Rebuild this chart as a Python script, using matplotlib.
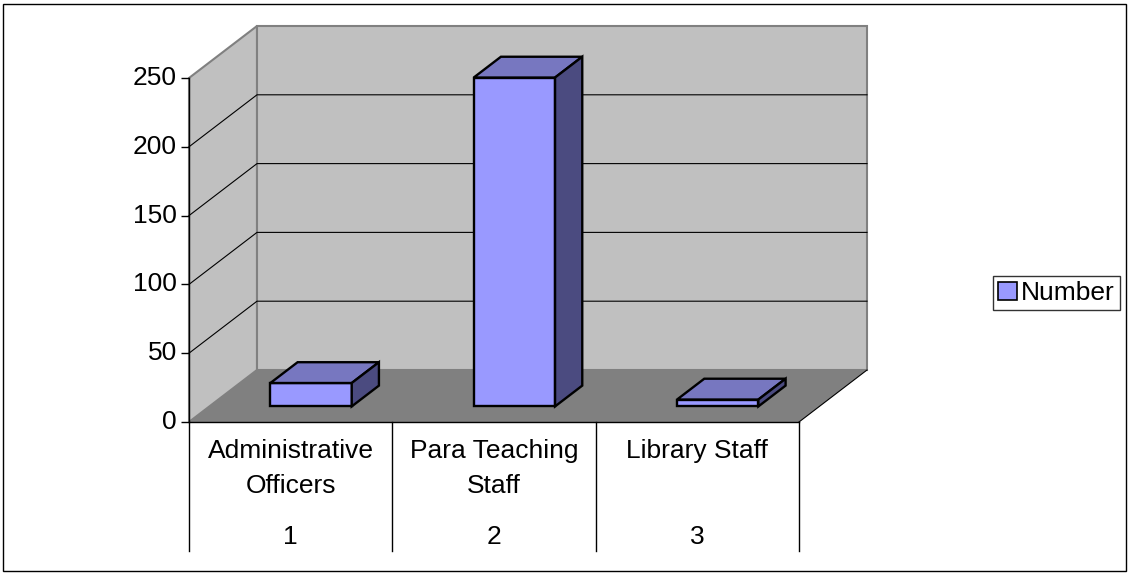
import matplotlib
matplotlib.use("Agg")
import matplotlib.pyplot as plt
from matplotlib.patches import Polygon, Patch, Rectangle
from matplotlib.transforms import ScaledTranslation, blended_transform_factory
from matplotlib.markers import TICKLEFT

# ---- data ----
categories = ["Administrative\nOfficers", "Para Teaching\nStaff", "Library Staff"]
category_numbers = ["1", "2", "3"]
values = [17, 239, 5]
series_name = "Number"
yticks = [0, 50, 100, 150, 200, 250]

# ---- style ----
FONT = "Liberation Sans"
FS = 19
FRONT = "#9999FF"
TOP = "#7777C0"
SIDE = "#4B4B80"
WALL = "#C0C0C0"
FLOOR = "#808080"

W, H = 1130, 575
fig = plt.figure(figsize=(W / 100, H / 100), dpi=100)
fig.patch.set_facecolor("white")
fig.patches.append(Rectangle((3 / W, 4 / H), 1123 / W, 567 / H, transform=fig.transFigure,
                             fill=False, edgecolor="black", lw=1.0))

ax = fig.add_axes([189 / W, 1 - 422 / H, 610 / W, 344 / H])
ax.set_xlim(0, len(categories))
ax.set_ylim(0, 250)
ax.axis("off")

# depth projection (oblique): full depth shift in data units
DX = 68 / (610 / 3)
DY = 52 / (344 / 250)


def proj(x, y, d):
    return (x + d * DX, y + d * DY)


def poly(pts, **kw):
    p = Polygon(pts, closed=True, clip_on=False, **kw)
    ax.add_patch(p)
    return p


n = len(categories)
ymax = yticks[-1]

# walls and floor
poly([proj(0, 0, 0), proj(0, ymax, 0), proj(0, ymax, 1), proj(0, 0, 1)],
     facecolor=WALL, edgecolor="#808080", lw=1.5, zorder=1)
poly([proj(0, 0, 1), proj(n, 0, 1), proj(n, ymax, 1), proj(0, ymax, 1)],
     facecolor=WALL, edgecolor="#808080", lw=1.5, zorder=1)
poly([proj(0, 0, 0), proj(n, 0, 0), proj(n, 0, 1), proj(0, 0, 1)],
     facecolor=FLOOR, edgecolor="none", zorder=2)
x_a, y_a = proj(n, 0, 0)
x_b, y_b = proj(n, 0, 1)
ax.plot([x_a, x_b], [y_a, y_b], color="black", lw=0.8, zorder=3, clip_on=False)

# gridlines
for v in yticks[1:-1]:
    p0 = proj(0, v, 0)
    p1 = proj(0, v, 1)
    p2 = proj(n, v, 1)
    ax.plot([p0[0], p1[0], p2[0]], [p0[1], p1[1], p2[1]], color="black", lw=0.8,
            zorder=3, clip_on=False)

# bars
d0, d1 = 0.3, 0.7
bw = 0.4
for i, v in enumerate(values):
    x0 = i + 0.5 - bw / 2
    x1 = i + 0.5 + bw / 2
    kw = dict(edgecolor="black", lw=1.7, joinstyle="miter", zorder=5)
    poly([proj(x0, 0, d0), proj(x1, 0, d0), proj(x1, v, d0), proj(x0, v, d0)], facecolor=FRONT, **kw)
    poly([proj(x0, v, d0), proj(x1, v, d0), proj(x1, v, d1), proj(x0, v, d1)], facecolor=TOP, **kw)
    poly([proj(x1, 0, d0), proj(x1, 0, d1), proj(x1, v, d1), proj(x1, v, d0)], facecolor=SIDE, **kw)

# axis line, front floor line, ticks, tick labels
ax.plot([0, 0], [0, ymax], color="black", lw=1.0, zorder=6, clip_on=False)
ax.plot([0, n], [0, 0], color="black", lw=1.0, zorder=6, clip_on=False)
ax.plot([0] * len(yticks), yticks, linestyle="none", marker=TICKLEFT, markersize=5.5,
        markeredgewidth=1.0, color="black", clip_on=False, zorder=6)
lab_tr = ax.transData + ScaledTranslation(-12 / 100, 0, fig.dpi_scale_trans)
for v in yticks:
    ax.text(0, v, str(v), transform=lab_tr, ha="right", va="center",
            fontsize=FS, family=FONT)

# category table below
btr = blended_transform_factory(ax.transData, ax.transAxes)
table_bottom = -(551 - 422) / 344
for k in range(n + 1):
    ax.plot([k, k], [0, table_bottom], transform=btr, color="black", lw=1.0, clip_on=False)
for i, (lab, num) in enumerate(zip(categories, category_numbers)):
    ax.text(i + 0.5, -(439 - 422) / 344, lab, transform=btr, ha="center", va="top",
            fontsize=FS, family=FONT, linespacing=1.6)
    ax.text(i + 0.5, -(537 - 422) / 344, num, transform=btr, ha="center", va="center",
            fontsize=FS, family=FONT)

# legend
leg = fig.legend(handles=[Patch(facecolor=FRONT, edgecolor="black", lw=1.2, label=series_name)],
                 loc="center left", bbox_to_anchor=(993 / W, 1 - 293 / H),
                 prop={"family": FONT, "size": FS}, frameon=True, fancybox=False,
                 borderpad=0.2, handlelength=0.7, handleheight=0.7, handletextpad=0.15,
                 borderaxespad=0)
leg.get_frame().set_edgecolor("black")
leg.get_frame().set_linewidth(1.0)

fig.savefig("out.png", dpi=100)
